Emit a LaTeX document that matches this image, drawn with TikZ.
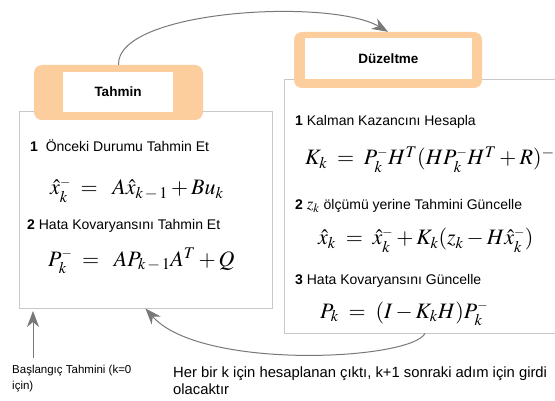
\documentclass[tikz,border=0pt]{standalone}
\usepackage{mathptmx}
\usepackage[no-math]{fontspec}
\setmainfont{Liberation Sans}
\usetikzlibrary{arrows.meta}
\definecolor{tabOrange}{RGB}{252,206,158}
\definecolor{panelGray}{RGB}{200,200,200}
\definecolor{connGray}{RGB}{120,120,120}
\newcommand\supm{{\scriptscriptstyle -}}
\tikzset{
  panel/.style={draw=panelGray, line width=1pt, fill=white, inner sep=0pt},
  tabouter/.style={fill=tabOrange, rounded corners=8pt, inner sep=0pt},
  tabinner/.style={fill=white, inner sep=0pt, font=\fontsize{13.5}{16}\selectfont\bfseries},
  conn/.style={draw=connGray, line width=1pt, -{Stealth[length=16pt,width=12pt,inset=5pt]}},
  head/.style={anchor=base west, inner sep=0pt, font=\fontsize{14}{17}\selectfont},
  eq/.style={anchor=base west, inner sep=0pt, font=\fontsize{22}{26}\selectfont},
  note/.style={anchor=north west, inner sep=0pt, align=left},
}
\begin{document}
\begin{tikzpicture}[x=1pt,y=-1pt]
\clip (0,0) rectangle (555,401);
\fill[white] (0,0) rectangle (555,401);

% panels
\node[panel, minimum width=253pt, minimum height=196pt] (lbox) at (145.5,210) {};
\node[panel, minimum width=282pt, minimum height=253pt] (rbox) at (425,206.5) {};

% tabs
\node[tabouter, minimum width=169pt, minimum height=55pt] (tahminTab) at (118.5,92.5) {};
\node[tabinner, minimum width=110pt, minimum height=40pt] (tahmin) at (118,92) {Tahmin};
\node[tabouter, minimum width=188pt, minimum height=56pt] (duzTab) at (388,60) {};
\node[tabinner, minimum width=167pt, minimum height=41pt] (duz) at (388.5,58.5) {Düzeltme};

% left panel content
\node[head] (h1) at (30,152) {{\bfseries 1}\ \ Önceki Durumu Tahmin Et};
\node[eq] (e1) at (50,195) {$\hat{x}_k^{\supm}\;=\;\;A\hat{x}_{k\,-\,1}+Bu_k$};
\node[head] (h2) at (27,230) {{\bfseries 2} Hata Kovaryansını Tahmin Et};
\node[eq] (e2) at (48,266) {$P_k^{\supm}\;=\;\;AP_{k\,-\,1}A^T+Q$};

% right panel content
\node[head] (h3) at (295,126) {{\bfseries 1} Kalman Kazancını Hesapla};
\node[eq] (e3) at (305,165) {$K_k\;=\;P_k^{\supm}H^T(HP_k^{\supm}H^T+R)^{-1}$};
\node[head] (h4) at (295,210) {{\bfseries 2} {\fontsize{17}{17}\selectfont$z_k$} ölçümü yerine Tahmini Güncelle};
\node[eq] (e4) at (318,245) {$\hat{x}_k\;=\;\hat{x}_k^{\supm}+K_k(z_k-H\hat{x}_k^{\supm})$};
\node[head] (h5) at (295,285) {{\bfseries 3} Hata Kovaryansını Güncelle};
\node[eq] (e5) at (320,318) {$P_k\;=\;(I-K_kH)P_k^{\supm}$};

% notes
\node[note, font=\fontsize{11.5}{16}\selectfont] (start) at (12,364.5) {Başlangıç Tahmini (k=0\\için)};
\node[note, font=\fontsize{14.8}{17}\selectfont] (loop) at (173,366.5) {Her bir k için hesaplanan çıktı, k+1 sonraki adım için girdi\\olacaktır};

% connectors
\coordinate (initTip) at (33,311);
\draw[conn] ([yshift=7pt]start.north -| initTip) -- (initTip);
\draw[conn] (tahminTab.north) .. controls +(-2,-55) and +(-58,-34) .. (duzTab.north);
\draw[conn] (rbox.south) .. controls +(-15,27) and +(55,62) .. (lbox.south);
\end{tikzpicture}
\end{document}
